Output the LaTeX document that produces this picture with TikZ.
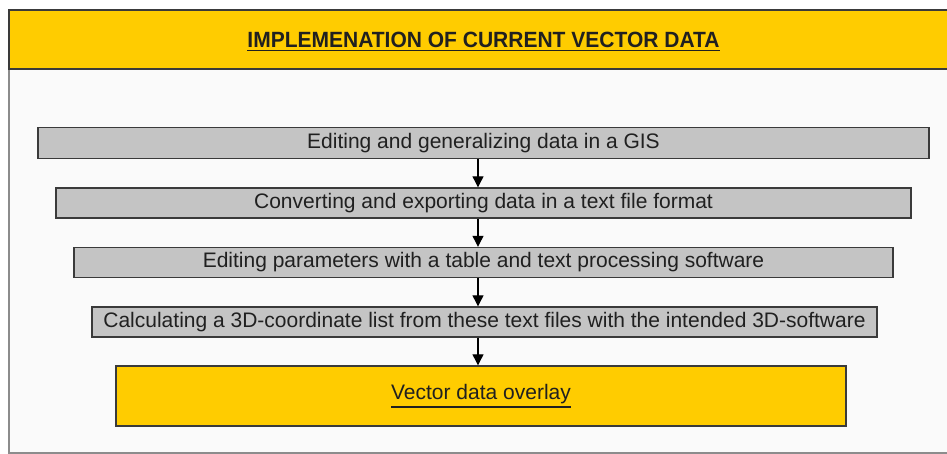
\documentclass[tikz,border=0pt]{standalone}
\usepackage{fontspec}
\setmainfont{Liberation Sans}
\usetikzlibrary{arrows.meta}
\definecolor{gold}{HTML}{FFCC00}
\definecolor{stepgray}{HTML}{C4C4C4}
\definecolor{edge}{HTML}{3A3A3A}
\definecolor{paper}{HTML}{FAFAFA}
\definecolor{frame}{HTML}{8C8C8C}
\definecolor{ink}{HTML}{202020}
% underline with a heavier rule
\newcommand{\ulthick}[1]{\leavevmode\vtop{\hbox{#1}\kern2pt\hrule height 1.5pt}}
\tikzset{
  stepbox/.style={draw=edge, line width=1.4pt, fill=stepgray, inner sep=0pt,
    text=ink, font=\fontsize{21}{23}\selectfont},
  goalbox/.style={draw=edge, line width=1.4pt, fill=gold, inner sep=0pt,
    text=ink, font=\fontsize{21}{23}\selectfont},
  flow/.style={draw=black, line width=1.2pt, -{Triangle[width=11pt,length=11pt]}},
}
\begin{document}
\begin{tikzpicture}[x=1pt, y=-1pt]
  \useasboundingbox (0,0) rectangle (947,454);
  % page and outer frame
  \fill[white] (0,0) rectangle (947,454);
  \filldraw[fill=paper, draw=frame, line width=1.5pt] (960,10) -- (9,10) -- (9,453) -- (960,453);
  % header band
  \filldraw[fill=gold, draw=edge, line width=1.5pt] (960,10) -- (9,10) -- (9,69) -- (960,69);
  \node[text=ink, font=\bfseries\fontsize{21}{23}\selectfont] (title) at (483.5,41.5)
    {\ulthick{\scalebox{1}[1.05]{IMPLEMENATION OF CURRENT VECTOR DATA}}};
  % processing steps
  \node[stepbox, minimum width=891pt, minimum height=31pt] (s1) at (483.5,143)
    {Editing and generalizing data in a GIS};
  \node[stepbox, minimum width=855pt, minimum height=30pt] (s2) at (483.5,203)
    {Converting and exporting data in a text file format};
  \node[stepbox, minimum width=819pt, minimum height=30pt] (s3) at (483.5,262.5)
    {Editing parameters with a table and text processing software};
  \node[stepbox, minimum width=785pt, minimum height=30pt] (s4) at (484.5,322)
    {Calculating a 3D-coordinate list from these text files with the intended 3D-software};
  \node[goalbox, minimum width=730pt, minimum height=60pt] (out) at (481,396)
    {\raisebox{-1.5pt}{\ulthick{Vector data overlay}}};
  % connectors
  \coordinate (ax) at (478,0);
  \draw[flow] (s1.south -| ax) -- (s2.north -| ax);
  \draw[flow] (s2.south -| ax) -- (s3.north -| ax);
  \draw[flow] (s3.south -| ax) -- (s4.north -| ax);
  \draw[flow] (s4.south -| ax) -- (out.north -| ax);
\end{tikzpicture}
\end{document}
